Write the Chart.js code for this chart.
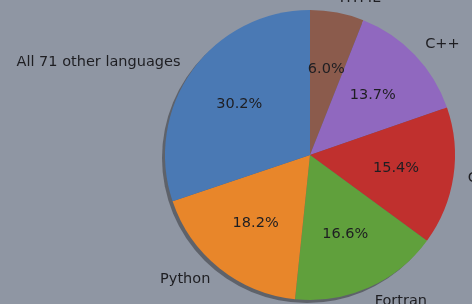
<!DOCTYPE html>
<html>
<head>
<meta charset="utf-8">
<script src="https://cdn.jsdelivr.net/npm/chart.js@4/dist/chart.umd.min.js"></script>
<style>
  html, body { margin: 0; padding: 0; background: #8f96a3; }
  canvas { display: block; }
</style>
</head>
<body>
<canvas id="pie" width="472" height="304"></canvas>
<script>
// clockwise from 12 o'clock (matplotlib draws the same thing counter-clockwise)
const languages = ['HTML', 'C++', 'C', 'Fortran', 'Python', 'All 71 other languages'];
const shares = [6.0, 13.7, 15.4, 16.6, 18.2, 30.2];
const sliceColors = ['#8b5b4c', '#9068bf', '#c0302e', '#60a03c', '#e8862a', '#4a79b4'];

// fake matplotlib shadow=True: darker disc slightly down-left of the pie
const shadowPlugin = {
  id: 'pieShadow',
  beforeDatasetsDraw(chart) {
    const arc = chart.getDatasetMeta(0).data[0];
    if (!arc) return;
    const ctx = chart.ctx;
    ctx.save();
    ctx.fillStyle = 'rgba(45, 45, 50, 0.5)';
    ctx.beginPath();
    ctx.arc(arc.x - 3, arc.y + 3, arc.outerRadius, 0, Math.PI * 2);
    ctx.fill();
    ctx.restore();
  }
};

// labels outside at 1.1r, percentages inside at 0.6r
const labelPlugin = {
  id: 'pieLabels',
  afterDatasetsDraw(chart) {
    const ctx = chart.ctx;
    const meta = chart.getDatasetMeta(0);
    ctx.save();
    ctx.font = '14.5px "DejaVu Sans"';
    ctx.fillStyle = '#1e1e22';
    ctx.textBaseline = 'middle';
    meta.data.forEach((arc, i) => {
      const mid = (arc.startAngle + arc.endAngle) / 2;
      const cos = Math.cos(mid), sin = Math.sin(mid);
      const r = arc.outerRadius;
      ctx.textAlign = cos >= 0 ? 'left' : 'right';
      ctx.fillText(languages[i], arc.x + 1.1 * r * cos, arc.y + 1.1 * r * sin);
      ctx.textAlign = 'center';
      ctx.fillText(shares[i].toFixed(1) + '%', arc.x + 0.6 * r * cos, arc.y + 0.6 * r * sin);
    });
    ctx.restore();
  }
};

new Chart(document.getElementById('pie').getContext('2d'), {
  type: 'pie',
  data: {
    labels: languages,
    datasets: [{
      data: shares,
      backgroundColor: sliceColors,
      borderWidth: 0
    }]
  },
  options: {
    responsive: false,
    animation: false,
    layout: { padding: { left: 165, right: 17, top: 10, bottom: 4 } },
    plugins: {
      legend: { display: false },
      tooltip: { enabled: false }
    }
  },
  plugins: [shadowPlugin, labelPlugin]
});
</script>
</body>
</html>
